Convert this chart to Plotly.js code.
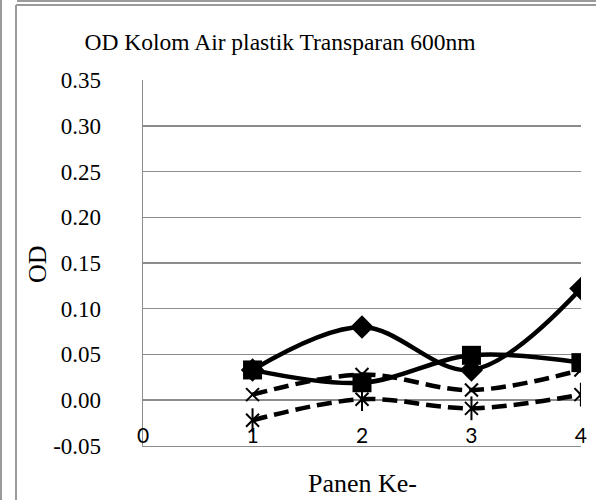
<!DOCTYPE html>
<html>
<head>
<meta charset="utf-8">
<script src="https://cdn.plot.ly/plotly-3.0.1.min.js"></script>
<style>
  html, body { margin: 0; padding: 0; background: #fff; }
  #chart { width: 596px; height: 500px; }
</style>
</head>
<body>
<div id="chart"></div>
<script>
// Harvest number (Panen Ke-) on the x axis
const panen = [1, 2, 3, 4];

// Optical density at 600 nm for each series
const seriesDiamond = [0.033, 0.080, 0.033, 0.122];
const seriesSquare  = [0.033, 0.019, 0.049, 0.041];
const seriesCross   = [0.006, 0.028, 0.011, 0.033];
const seriesStar    = [-0.022, 0.001, -0.009, 0.006];

// Axis tick labels
const xTickVals = [0, 1, 2, 3, 4];
const xTickText = ['0', '1', '2', '3', '4'];
const yTickVals = [-0.05, 0, 0.05, 0.10, 0.15, 0.20, 0.25, 0.30, 0.35];
const yTickText = ['-0.05', '0.00', '0.05', '0.10', '0.15', '0.20', '0.25', '0.30', '0.35'];

const titleText = 'OD Kolom Air plastik Transparan 600nm';
const xTitle = 'Panen Ke-';
const yTitle = 'OD';

// Plot-area geometry in pixels
const W = 596, H = 500;
const L = 143, R = 581, T = 80, B = 446;
const px = v => (v - L) / (R - L);
const py = v => (B - v) / (B - T);

const serif = "'Liberation Serif', 'Times New Roman', serif";
const sans = "Lato, 'Liberation Sans', Arial, sans-serif";

const solid = { color: '#000', width: 4.5, shape: 'spline', smoothing: 1 };
const dashed = { color: '#000', width: 4.5, shape: 'spline', smoothing: 1, dash: '15px,7px' };
const thinMarker = { color: '#000', width: 2 };

const traces = [
  { x: panen, y: seriesDiamond, mode: 'lines+markers', line: solid,
    marker: { symbol: 'diamond', size: 18, color: '#000' } },
  { x: panen, y: seriesSquare, mode: 'lines+markers', line: solid,
    marker: { symbol: 'square', size: 19, color: '#000' } },
  { x: panen, y: seriesCross, mode: 'lines+markers', line: dashed,
    marker: { symbol: 'x-thin-open', size: 13, color: '#000', line: thinMarker } },
  { x: panen, y: seriesStar, mode: 'lines+markers', line: dashed,
    marker: { symbol: 'x-thin-open', size: 13, color: '#000', line: thinMarker } },
  // vertical stroke completing the star marker
  { x: panen, y: seriesStar, mode: 'markers',
    marker: { symbol: 'line-ns-open', size: 17, color: '#000', line: thinMarker } }
];

const frame = '#9a9a9a';
const grid = '#8c8c8c';
const shapes = [
  { type: 'line', xref: 'paper', yref: 'paper', x0: px(1), x1: px(1), y0: py(0), y1: py(H),
    line: { color: frame, width: 2 } },
  { type: 'line', xref: 'paper', yref: 'paper', x0: px(17), x1: px(W), y0: py(1), y1: py(1),
    line: { color: frame, width: 2 } },
  { type: 'line', xref: 'paper', yref: 'paper', x0: px(16), x1: px(16), y0: py(5), y1: py(H),
    line: { color: frame, width: 2 } },
  { type: 'line', xref: 'paper', yref: 'paper', x0: px(16), x1: px(W), y0: py(5), y1: py(5),
    line: { color: frame, width: 2 } }
];

const layout = {
  width: W, height: H,
  margin: { l: L, r: W - R, t: T, b: H - B },
  paper_bgcolor: '#fff', plot_bgcolor: '#fff',
  showlegend: false,
  font: { family: serif, color: '#000' },
  title: { text: titleText, font: { family: serif, size: 23.5, color: '#000' },
           x: 280 / W, xanchor: 'center', y: 1 - 42 / H, yanchor: 'middle' },
  xaxis: {
    range: [-0.001, 4.001], tickvals: xTickVals, ticktext: xTickText,
    ticklabelposition: 'inside', ticklabeloverflow: 'allow', ticks: '',
    showgrid: false, zeroline: false,
    showline: true, linecolor: grid, linewidth: 1.3,
    tickfont: { family: sans, size: 21, color: '#000' }
  },
  yaxis: {
    range: [-0.0502, 0.3502], tickvals: yTickVals, ticktext: yTickText,
    showgrid: true, gridcolor: grid, gridwidth: 1.3, zeroline: false,
    showline: true, linecolor: grid, linewidth: 1.3,
    ticks: '', ticklabelstandoff: 36, ticklabeloverflow: 'allow',
    tickfont: { family: serif, size: 23, color: '#000' }
  },
  shapes: shapes,
  annotations: [
    { text: yTitle, xref: 'paper', yref: 'paper', x: px(37), y: py(264),
      showarrow: false, textangle: -90, xanchor: 'center', yanchor: 'middle',
      font: { family: serif, size: 26, color: '#000' } },
    { text: xTitle, xref: 'paper', yref: 'paper', x: px(362), y: py(483),
      showarrow: false, xanchor: 'center', yanchor: 'middle',
      font: { family: serif, size: 26, color: '#000' } }
  ]
};

Plotly.newPlot('chart', traces, layout, { staticPlot: true, displayModeBar: false });
</script>
</body>
</html>
